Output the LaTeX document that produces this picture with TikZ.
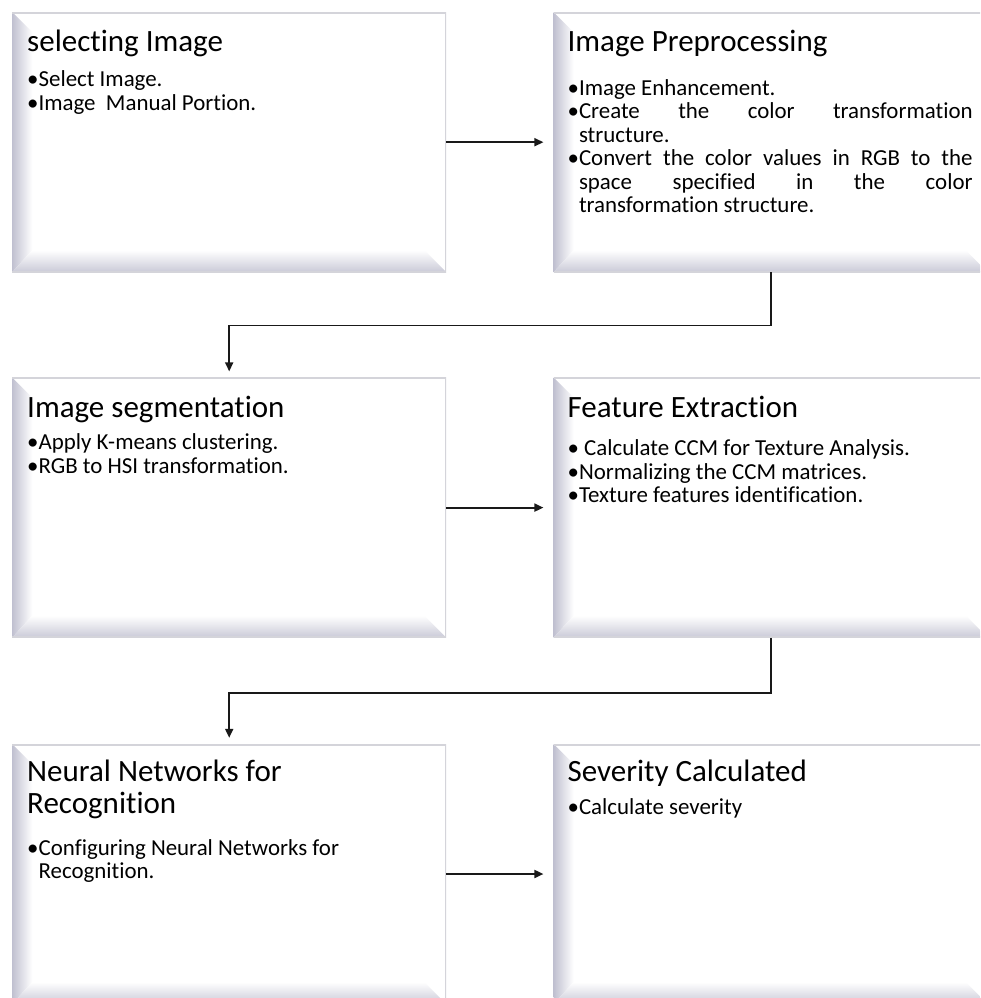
\documentclass[tikz,border=0pt]{standalone}
\usepackage{fontspec}
\setmainfont{Carlito}[Ligatures={NoCommon,NoContextual},RawFeature={-liga;-clig;-dlig}]
\usetikzlibrary{arrows.meta,positioning}

\definecolor{bevelshade}{RGB}{192,192,208}
\definecolor{rimgrey}{RGB}{212,212,218}

\newcommand{\boxtitle}[2][0pt]{{\fontsize{31}{32}\selectfont #2\par}\vspace{#1}}
\newcommand{\bitem}[1]{\par\noindent\sbox0{•}\hangindent=\wd0\hangafter=1 •#1\par}

\tikzset{
  bevelbox/.style={minimum width=434pt, minimum height=260pt, inner sep=0pt, fill=white,
    path picture={
      \coordinate (pptl) at (path picture bounding box.north west);
      \coordinate (pptr) at (path picture bounding box.north east);
      \coordinate (ppbl) at (path picture bounding box.south west);
      \coordinate (ppbr) at (path picture bounding box.south east);
      \shade[left color=bevelshade, right color=white]
        (ppbl) -- (pptl) -- ([shift={(20pt,-20pt)}]pptl) -- ([shift={(20pt,22pt)}]ppbl) -- cycle;
      \shade[top color=white, bottom color=bevelshade!85]
        (ppbl) -- (ppbr) -- ([shift={(-22pt,22pt)}]ppbr) -- ([shift={(20pt,22pt)}]ppbl) -- cycle;
      \draw[rimgrey, line width=3pt] (pptl) -- (pptr) -- (ppbr) -- (ppbl);
    }},
  boxtext/.style={anchor=base west, inner sep=0pt, text width=405pt, align=justify,
    font=\fontsize{22.9}{23.5}\selectfont,
    execute at begin node={\lineskiplimit=-\maxdimen\tolerance=10000}},
  conn/.style={draw=black!90, line width=1.8pt, -{Triangle[length=9pt,width=8pt]}}
}

\begin{document}
\begin{tikzpicture}[x=1pt,y=-1pt]
  \clip (0,0) rectangle (980,998);
  \fill[white] (0,0) rectangle (980,998);

  % boxes
  \node[bevelbox, anchor=north west] (sel) at (12,12) {};
  \node[bevelbox, right=107pt of sel] (pre) {};
  \node[bevelbox, below=105pt of sel] (seg) {};
  \node[bevelbox, right=107pt of seg] (feat) {};
  \node[bevelbox, below=106pt of seg] (nn) {};
  \node[bevelbox, right=107pt of nn] (sev) {};

  % texts
  \node[boxtext] (selText) at ([shift={(15pt,-40pt)}]sel.north west) {%
    \boxtitle[11.5pt]{selecting Image}
    \bitem{Select Image.}
    \bitem{Image\ \ Manual Portion.}};
  \node[boxtext] (preText) at ([shift={(14pt,-40pt)}]pre.north west) {%
    \boxtitle[20pt]{Image Preprocessing}
    \bitem{Image Enhancement.}
    \bitem{Create the color transformation\linebreak structure.}
    \bitem{Convert the color values in RGB to the\linebreak space specified in the color\linebreak transformation structure.}};
  \node[boxtext] (segText) at ([shift={(15pt,-40pt)}]seg.north west) {%
    \boxtitle[9pt]{Image segmentation}
    \bitem{Apply K-means clustering.}
    \bitem{RGB to HSI transformation.}};
  \node[boxtext] (featText) at ([shift={(14pt,-40pt)}]feat.north west) {%
    \boxtitle[15pt]{Feature Extraction}
    \bitem{ Calculate CCM for Texture Analysis.}
    \bitem{Normalizing the CCM matrices.}
    \bitem{Texture features identification.}};
  \node[boxtext] (nnText) at ([shift={(15pt,-38pt)}]nn.north west) {%
    \boxtitle[18pt]{Neural Networks for\\Recognition}
    \bitem{Configuring Neural Networks for\newline Recognition.}};
  \node[boxtext] (sevText) at ([shift={(14pt,-38pt)}]sev.north west) {%
    \boxtitle[9pt]{Severity Calculated}
    \bitem{Calculate severity}};

  % connectors
  \draw[conn, shorten >=10pt] (sel) -- (pre);
  \draw[conn, shorten >=6pt] (pre.south) -- ++(0,53) -| (seg.north);
  \draw[conn, shorten >=10pt] (seg) -- (feat);
  \draw[conn, shorten >=6pt] (feat.south) -- ++(0,55) -| (nn.north);
  \draw[conn, shorten >=10pt] (nn) -- (sev);
\end{tikzpicture}
\end{document}
